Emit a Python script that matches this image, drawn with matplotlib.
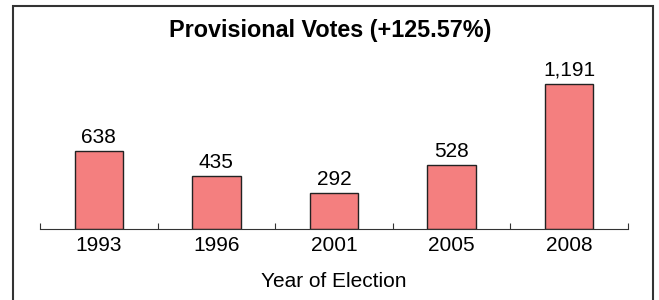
import matplotlib
matplotlib.use("Agg")
from matplotlib import pyplot as plt
from matplotlib.patches import Rectangle
from matplotlib.ticker import FixedLocator

years = ["1993", "1996", "2001", "2005", "2008"]
votes = [638, 435, 292, 528, 1191]
value_labels = ["638", "435", "292", "528", "1,191"]

plt.rcParams['font.family'] = ['Liberation Sans', 'DejaVu Sans']

fig = plt.figure(figsize=(6.59, 3.0), dpi=100)
ax = fig.add_axes([40/659, 71/300, 588/659, 169/300])

x = range(len(years))
bars = ax.bar(x, votes, 0.41, color="#f47f7f", edgecolor="#222222", linewidth=1.0)
for b, lab in zip(bars, value_labels):
    ax.annotate(lab, (b.get_x() + b.get_width()/2, b.get_height()),
                xytext=(0, 3), textcoords="offset points",
                ha="center", va="bottom", fontsize=15)

ax.set_xlim(-0.5, len(years) - 0.5)
ax.set_ylim(0, 1388)
ax.set_xticks(list(x))
ax.set_xticklabels(years, fontsize=15)
ax.xaxis.set_minor_locator(FixedLocator([i - 0.5 for i in range(len(years) + 1)]))
ax.tick_params(axis="x", which="major", length=0, pad=5)
ax.tick_params(axis="x", which="minor", length=4, direction="in", width=0.8, color="#333333")
ax.set_yticks([])
for s in ["left", "right", "top"]:
    ax.spines[s].set_visible(False)
ax.spines["bottom"].set_color("#333333")
ax.set_xlabel("Year of Election", fontsize=15, labelpad=12)

fig.text(330/659, 1 - 31/300, "Provisional Votes (+125.57%)", ha="center", va="center",
         fontsize=16.8, fontweight="bold")

fig.patches.append(Rectangle((13/659, -0.1), 640/659, 1.1 - 6/300, transform=fig.transFigure,
                             fill=False, edgecolor="#333333", linewidth=1.5, figure=fig))

fig.savefig("out.png", dpi=100)
